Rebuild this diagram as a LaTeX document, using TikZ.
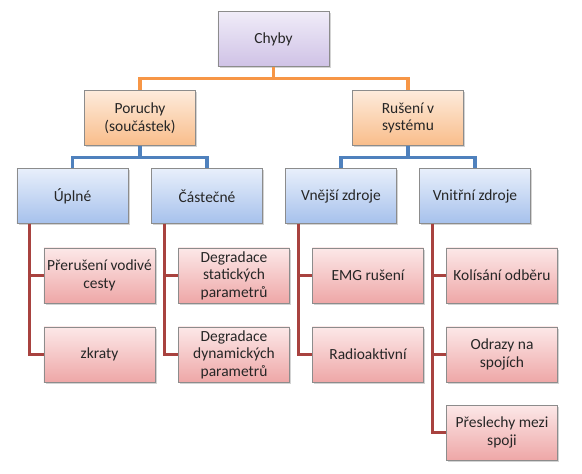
\documentclass[tikz,border=0pt]{standalone}
\usepackage{fontspec}
\setmainfont{Carlito}
\usepackage{tikz}
\usetikzlibrary{calc,shadows}

\definecolor{lilaTop}{HTML}{F0ECF8}
\definecolor{lilaBot}{HTML}{CFC2E6}
\definecolor{oranTop}{HTML}{FDEBDC}
\definecolor{oranBot}{HTML}{F9BD8A}
\definecolor{modrTop}{HTML}{E8EFFB}
\definecolor{modrBot}{HTML}{A6C1EC}
\definecolor{cervTop}{HTML}{FCE8E8}
\definecolor{cervBot}{HTML}{EEA7A7}
\definecolor{oranLine}{HTML}{F79646}
\definecolor{modrLine}{HTML}{4F81BD}
\definecolor{cervLine}{HTML}{A8423F}

\tikzset{
	box/.style={draw=black!45, line width=0.5pt, minimum width=2.775cm, minimum height=1.375cm,
		align=center, inner sep=1pt, font=\fontsize{11}{12.5}\selectfont, text=black!85,
		drop shadow={opacity=0.35, shadow xshift=1.2pt, shadow yshift=-1.2pt}},
	koren/.style={box, top color=lilaTop, bottom color=lilaBot},
	skupina/.style={box, top color=oranTop, bottom color=oranBot},
	druh/.style={box, top color=modrTop, bottom color=modrBot},
	list/.style={box, top color=cervTop, bottom color=cervBot},
	spoj/.style={line width=2.2pt},
}

\begin{document}
\begin{tikzpicture}[x=0.025cm,y=-0.025cm]
			\useasboundingbox (0,0) rectangle (582,473);
			
			% leaf rows
			\def\ra{275.5}
			\def\rb{354.5}
			\def\rc{432.5}
			
			% top levels
			\node[koren] (chyby) at (273.5,39) {Chyby};
			\node[skupina] (poruchy) at (140,118) {Poruchy\\(součástek)};
			\node[skupina] (ruseni) at (408,118) {Rušení v\\systému};
			
			\node[druh] (uplne) at (72.5,196) {Úplné};
			\node[druh] (castecne) at (207,196) {Částečné};
			\node[druh] (vnejsi) at (341,196) {Vnější zdroje};
			\node[druh] (vnitrni) at (475,196) {Vnitřní zdroje};
			
			% leaves
			\node[list] (preruseni) at (99.5,\ra) {Přerušení vodivé\\cesty};
			\node[list] (zkraty) at (99.5,\rb) {zkraty};
			\node[list] (statdeg) at (234,\ra) {Degradace\\statických\\parametrů};
			\node[list] (dyndeg) at (234,\rb) {Degradace\\dynamických\\parametrů};
			\node[list] (emg) at (368,\ra) {EMG rušení};
			\node[list] (radio) at (368,\rb) {Radioaktivní};
			\node[list] (kolisani) at (502,\ra) {Kolísání odběru};
			\node[list] (odrazy) at (502,\rb) {Odrazy na\\spojích};
			\node[list] (preslechy) at (502,\rc) {Přeslechy mezi\\spoji};
			
			% orange connectors
			\draw[spoj, oranLine] (chyby.south) -- ++(0,12) -| (poruchy.north);
			\draw[spoj, oranLine] (chyby.south) -- ++(0,12) -| (ruseni.north);
			
			% blue connectors
			\draw[spoj, modrLine] (poruchy.south) -- ++(0,11.5) -| (uplne.north);
			\draw[spoj, modrLine] (poruchy.south) -- ++(0,11.5) -| (castecne.north);
			\draw[spoj, modrLine] (ruseni.south) -- ++(0,11.5) -| (vnejsi.north);
			\draw[spoj, modrLine] (ruseni.south) -- ++(0,11.5) -| (vnitrni.north);
			
			% red connectors
			\draw[spoj, cervLine] ([xshift=0.325cm]uplne.south west) |- (preruseni.west);
			\draw[spoj, cervLine] ([xshift=0.325cm]uplne.south west) |- (zkraty.west);
			\draw[spoj, cervLine] ([xshift=0.325cm]castecne.south west) |- (statdeg.west);
			\draw[spoj, cervLine] ([xshift=0.325cm]castecne.south west) |- (dyndeg.west);
			\draw[spoj, cervLine] ([xshift=0.325cm]vnejsi.south west) |- (emg.west);
			\draw[spoj, cervLine] ([xshift=0.325cm]vnejsi.south west) |- (radio.west);
			\draw[spoj, cervLine] ([xshift=0.325cm]vnitrni.south west) |- (kolisani.west);
			\draw[spoj, cervLine] ([xshift=0.325cm]vnitrni.south west) |- (odrazy.west);
			\draw[spoj, cervLine] ([xshift=0.325cm]vnitrni.south west) |- (preslechy.west);
			
\end{tikzpicture}
\end{document}
